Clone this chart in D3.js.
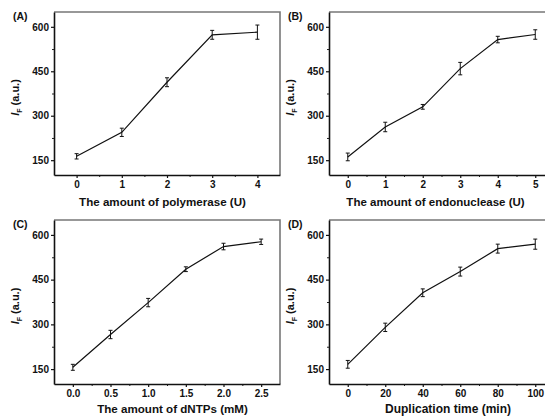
<!DOCTYPE html>
<html><head><meta charset="utf-8">
<script src="https://cdn.jsdelivr.net/npm/d3@7"></script>
<style>body{margin:0;background:#fff}svg{display:block}text{font-family:"Liberation Sans",Arial,sans-serif;font-weight:bold;fill:#111}</style>
</head><body><svg id="c" width="545" height="416"></svg>
<script>
// Data
const xA = [0, 1, 2, 3, 4];
const yA = [163, 244, 413, 573, 582];
const eA = [9, 14, 15, 15, 24];
const xB = [0, 1, 2, 3, 4, 5];
const yB = [161, 262, 330, 459, 557, 574];
const eB = [13, 16, 8, 21, 11, 16];
const xC = [0, 0.5, 1.0, 1.5, 2.0, 2.5];
const yC = [156, 266, 373, 485, 561, 577];
const eC = [10, 14, 14, 8, 11, 9];
const xD = [0, 20, 40, 60, 80, 100];
const yD = [166, 290, 406, 477, 554, 569];
const eD = [13, 14, 13, 15, 15, 17];
const yTicks = [150, 300, 450, 600];
const xTicksA = [0, 1, 2, 3, 4];
const xTicksB = [0, 1, 2, 3, 4, 5];
const xTicksC = [0, 0.5, 1.0, 1.5, 2.0, 2.5];
const xTicksD = [0, 20, 40, 60, 80, 100];
const titles = ["The amount of polymerase (U)", "The amount of endonuclease (U)", "The amount of dNTPs (mM)", "Duplication time (min)"];
const labels = ["(A)", "(B)", "(C)", "(D)"];

const svg = d3.select("#c");
const panels = [
  {x: xA, y: yA, e: eA, ticks: xTicksA, dom: [-0.5, 4.5], minor: 0.5, fmt: d3.format("d"), left: 54, right: 280, top: 12, bottom: 175, tx: 162.5, ty: 205.5, ts: 11.6},
  {x: xB, y: yB, e: eB, ticks: xTicksB, dom: [-0.5, 5.5], minor: 0.5, fmt: d3.format("d"), left: 329, right: 554, top: 12, bottom: 175, tx: 435.5, ty: 205.5, ts: 11.5},
  {x: xC, y: yC, e: eC, ticks: xTicksC, dom: [-0.25, 2.75], minor: 0.25, fmt: d3.format(".1f"), left: 54, right: 280, top: 220, bottom: 384, tx: 172.5, ty: 412.5, ts: 11.6},
  {x: xD, y: yD, e: eD, ticks: xTicksD, dom: [-10, 110], minor: 10, fmt: d3.format("d"), left: 329, right: 554, top: 220, bottom: 384, tx: 448, ty: 412.5, ts: 12}
];

panels.forEach((p, i) => {
  const g = svg.append("g");
  const xs = d3.scaleLinear().domain(p.dom).range([p.left, p.right]);
  const ys = d3.scaleLinear().domain([100, 650]).range([p.bottom, p.top]);
  g.append("path").attr("d", `M${p.left},${p.top}H${p.right}V${p.bottom}`)
    .attr("fill", "none").attr("stroke", "#777").attr("stroke-width", 1.6);
  const minorX = d3.range(p.dom[0] + p.minor, p.dom[1], p.minor).filter(v => !p.ticks.some(t => Math.abs(t - v) < 1e-9));
  g.append("g").attr("transform", `translate(0,${p.bottom})`)
    .call(d3.axisBottom(xs).tickValues(minorX).tickSize(2).tickFormat(""))
    .call(a => a.select(".domain").remove())
    .selectAll("line").attr("stroke", "#222");
  const minorY = [225, 375, 525];
  g.append("g").attr("transform", `translate(${p.left},0)`)
    .call(d3.axisLeft(ys).tickValues(minorY).tickSize(2).tickFormat(""))
    .call(a => a.select(".domain").remove())
    .selectAll("line").attr("stroke", "#222");
  const ax = g.append("g").attr("transform", `translate(0,${p.bottom})`)
    .call(d3.axisBottom(xs).tickValues(p.ticks).tickFormat(p.fmt).tickSize(3).tickSizeOuter(0).tickPadding(3));
  const ay = g.append("g").attr("transform", `translate(${p.left},0)`)
    .call(d3.axisLeft(ys).tickValues(yTicks).tickSize(3).tickSizeOuter(0).tickPadding(2));
  [ax, ay].forEach(a => {
    a.select(".domain").attr("stroke", "#111").attr("stroke-width", 1.6);
    a.selectAll("line").attr("stroke", "#111").attr("stroke-width", 1.2);
    a.selectAll("text").attr("font-size", 10).attr("font-weight", "bold").attr("fill", "#111")
      .attr("font-family", '"Liberation Sans",Arial,sans-serif');
  });
  const pts = p.x.map((v, k) => [v, p.y[k], p.e[k]]);
  g.append("path").datum(pts)
    .attr("d", d3.line().x(d => xs(d[0])).y(d => ys(d[1])))
    .attr("fill", "none").attr("stroke", "#111").attr("stroke-width", 1.2);
  const eb = g.append("g").attr("stroke", "#111").attr("stroke-width", 1);
  pts.forEach(d => {
    const cx = xs(d[0]), y1 = ys(d[1] - d[2]), y2 = ys(d[1] + d[2]);
    eb.append("line").attr("x1", cx).attr("x2", cx).attr("y1", y1).attr("y2", y2);
    eb.append("line").attr("x1", cx - 2).attr("x2", cx + 2).attr("y1", y1).attr("y2", y1);
    eb.append("line").attr("x1", cx - 2).attr("x2", cx + 2).attr("y1", y2).attr("y2", y2);
  });
  g.append("text").attr("x", p.left - 41).attr("y", p.top + 8).attr("font-size", 10.5).text(labels[i]);
  g.append("text").attr("x", p.tx).attr("y", p.ty)
    .attr("text-anchor", "middle").attr("font-size", p.ts).text(titles[i]);
  const yt = g.append("text").attr("transform", `translate(${p.left - 35},${(p.top + p.bottom) / 2 + 4}) rotate(-90)`)
    .attr("text-anchor", "middle").attr("font-size", 11);
  yt.append("tspan").attr("font-style", "italic").text("I");
  yt.append("tspan").attr("font-size", 7).attr("dy", 3).text("F");
  yt.append("tspan").attr("dy", -3).text(" (a.u.)");
});
</script></body></html>
